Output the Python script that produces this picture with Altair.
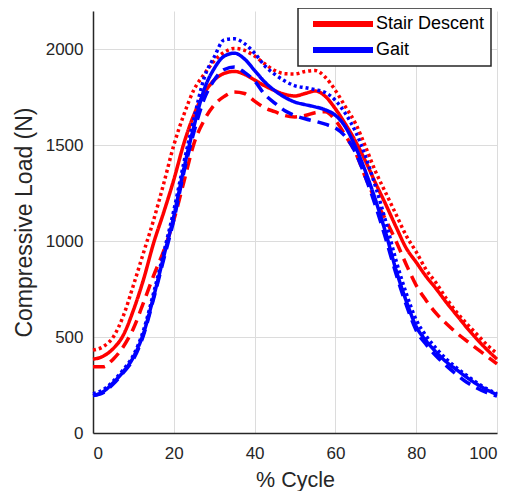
import altair as alt
import pandas as pd

x_pct = [0, 2.5, 5, 7.5, 10, 12.5, 15, 17.5, 20, 22.5, 25, 27.5, 30, 32.5, 35, 37.5, 40,
         42.5, 45, 47.5, 50, 52.5, 55, 57.5, 60, 62.5, 65, 67.5, 70, 72.5, 75, 77.5, 80,
         82.5, 85, 87.5, 90, 92.5, 95, 97.5, 100]

stair_mean = [385, 400, 440, 510, 640, 800, 990, 1150, 1320, 1510, 1660, 1770, 1840, 1875, 1885, 1870, 1840,
              1810, 1785, 1765, 1757, 1770, 1783, 1755, 1690, 1610, 1520, 1415, 1300, 1190, 1075, 965, 890,
              815, 750, 680, 615, 550, 490, 435, 385]
stair_low = [345, 345, 385, 450, 545, 680, 820, 950, 1110, 1310, 1510, 1630, 1710, 1755, 1778, 1770, 1730,
             1695, 1675, 1655, 1648, 1655, 1670, 1675, 1630, 1550, 1460, 1330, 1210, 1110, 1000, 880, 770,
             690, 622, 570, 522, 480, 440, 400, 360]
stair_high = [432, 450, 500, 610, 770, 940, 1110, 1300, 1500, 1660, 1790, 1870, 1940, 1985, 2005, 1995, 1965,
              1925, 1890, 1873, 1872, 1885, 1890, 1855, 1786, 1700, 1613, 1490, 1360, 1250, 1140, 1030, 944,
              850, 780, 700, 630, 570, 515, 460, 415]

gait_mean = [195, 215, 262, 320, 395, 520, 710, 920, 1130, 1380, 1600, 1790, 1900, 1965, 1980, 1950, 1890,
             1830, 1785, 1750, 1725, 1712, 1700, 1685, 1656, 1595, 1490, 1360, 1210, 1040, 850, 690, 555,
             480, 420, 370, 330, 290, 255, 225, 200]
gait_low = [195, 210, 255, 315, 385, 510, 700, 905, 1110, 1360, 1570, 1740, 1840, 1895, 1908, 1880, 1835,
            1765, 1720, 1680, 1655, 1638, 1625, 1610, 1590, 1545, 1460, 1330, 1180, 1010, 830, 670, 535,
            460, 400, 350, 305, 265, 235, 210, 192]
gait_high = [205, 225, 270, 330, 405, 535, 730, 940, 1160, 1410, 1640, 1850, 1960, 2050, 2055, 2030, 1980,
             1915, 1870, 1835, 1810, 1800, 1790, 1775, 1734, 1665, 1570, 1440, 1280, 1100, 900, 730, 590,
             505, 440, 385, 340, 300, 262, 230, 205]

groups = ["Stair Descent", "Gait"]
styles = ["solid", "dashed", "dotted"]


def frame(group, style, values):
    return pd.DataFrame({"x": x_pct, "y": values, "group": group, "style": style,
                         "series": group + " " + style})


red_df = pd.concat([frame("Stair Descent", "solid", stair_mean),
                    frame("Stair Descent", "dashed", stair_low),
                    frame("Stair Descent", "dotted", stair_high)])
blue_df = pd.concat([frame("Gait", "solid", gait_mean),
                     frame("Gait", "dashed", gait_low),
                     frame("Gait", "dotted", gait_high)])

FONT = "Liberation Sans"

x_enc = alt.X("x:Q", scale=alt.Scale(domain=[0, 100], nice=False),
              axis=alt.Axis(values=[0, 20, 40, 60, 80, 100], title="% Cycle",
                            titleFontSize=21.5, labelPadding=12, titlePadding=8))
y_enc = alt.Y("y:Q", scale=alt.Scale(domain=[0, 2200], nice=False),
              axis=alt.Axis(values=[0, 500, 1000, 1500, 2000], format="d",
                            title="Compressive Load (N)", titleFontSize=23,
                            labelPadding=10, titlePadding=9))
color_enc = alt.Color("group:N", scale=alt.Scale(domain=groups, range=["#ff0000", "#0000ff"]),
                      legend=alt.Legend(title=None))
dash_enc = alt.StrokeDash("style:N", scale=alt.Scale(domain=styles, range=[[1, 0], [12, 7], [3, 3]]),
                          legend=None)


def layer(df):
    return alt.Chart(df).mark_line(strokeWidth=3.5, interpolate="monotone", strokeCap="butt").encode(
        x=x_enc, y=y_enc, color=color_enc, strokeDash=dash_enc, detail="series:N")


chart = alt.layer(layer(red_df), layer(blue_df)).properties(
    width=404, height=422,
    autosize=alt.AutoSizeParams(type="none"),
    padding={"left": 85, "top": 3, "right": 7, "bottom": 58},
).configure_view(stroke=None).configure_axis(
    labelFont=FONT, titleFont=FONT, labelFontSize=17,
    labelColor="#262626", titleColor="#262626", titleFontWeight="normal",
    domainColor="#262626", domainWidth=1.5, ticks=False,
    gridColor="#dcdcdc", gridWidth=1,
).configure_legend(
    orient="none", legendX=205, legendY=-3, direction="vertical",
    strokeColor="#262626", fillColor="white", strokeWidth=1.5, padding=6, symbolOffset=30,
    symbolType="M-6,0H6", symbolSize=100, symbolStrokeWidth=6, labelFont=FONT,
    labelFontSize=18, labelColor="#000000", rowPadding=6, clipHeight=20, labelOffset=24,
)

chart.save("out.html", embed_options={"renderer": "svg", "actions": False})
